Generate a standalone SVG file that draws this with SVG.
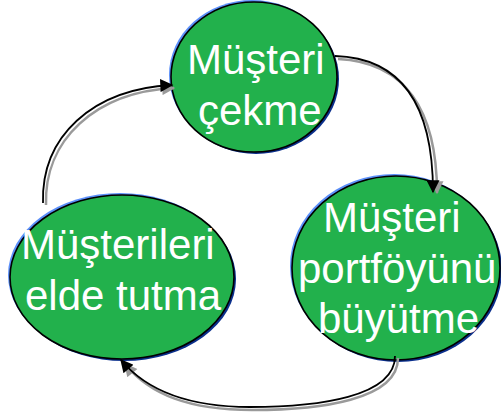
<svg xmlns="http://www.w3.org/2000/svg" width="501" height="414" viewBox="0 0 501 414">
<style>
.lt{fill:#5b8ff9}
.dk{fill:#0a2f8c}
.body{fill:#22b14c;stroke:#000;stroke-width:1.6}
.lbl{font-family:"Liberation Sans",Arial,sans-serif;font-size:42px;fill:#fff}
.sh{fill:none;stroke:#9a9a9a;stroke-width:2.5}
.ln{fill:none;stroke:#000;stroke-width:1.8}
</style>
<defs>
<marker id="ah" viewBox="0 0 10 10" refX="9" refY="5" markerWidth="15" markerHeight="13" markerUnits="userSpaceOnUse" orient="auto">
<path d="M0,0 L10,5 L0,10 Z" fill="#000"/>
</marker>
<marker id="ahs" viewBox="0 0 10 10" refX="9" refY="5" markerWidth="15" markerHeight="13" markerUnits="userSpaceOnUse" orient="auto">
<path d="M0,0 L10,5 L0,10 Z" fill="#9a9a9a"/>
</marker>
</defs>
<g id="node-top">
<ellipse class="lt" cx="252" cy="75" rx="83" ry="75"/>
<ellipse class="dk" cx="256" cy="79" rx="83" ry="75"/>
<ellipse class="body" cx="254" cy="77" rx="83" ry="75"/>
<text class="lbl" x="187" y="74">Müşteri</text>
<text class="lbl" x="198" y="125">çekme</text>
</g>
<g id="node-right">
<ellipse class="lt" cx="394" cy="266" rx="104" ry="92"/>
<ellipse class="dk" cx="398" cy="270" rx="104" ry="92"/>
<ellipse class="body" cx="396" cy="268" rx="104" ry="92"/>
<text class="lbl" x="323" y="232">Müşteri</text>
<text class="lbl" x="298" y="283">portföyünü</text>
<text class="lbl" x="318" y="333">büyütme</text>
</g>
<g id="node-left">
<ellipse class="lt" cx="120" cy="275" rx="112" ry="82"/>
<ellipse class="dk" cx="124" cy="279" rx="112" ry="82"/>
<ellipse class="body" cx="122" cy="277" rx="112" ry="82"/>
<text class="lbl" x="21" y="259">Müşterileri</text>
<text class="lbl" x="25" y="310">elde tutma</text>
</g>
<g id="connectors">
<path class="sh" d="M338,59 C405,62 437,110 437,193" marker-end="url(#ahs)"/>
<path class="ln" d="M335,56 C402,58 433,106 433,192" marker-end="url(#ah)"/>
<path class="sh" d="M398,358 C398,400 320,410 252,410 C190,410 150,395 125,364" marker-end="url(#ahs)"/>
<path class="ln" d="M395,356 C395,397 318,407 250,407 C188,407 146,390 121,360" marker-end="url(#ah)"/>
<path class="sh" d="M46,205 C44,140 95,92 174,88" marker-end="url(#ahs)"/>
<path class="ln" d="M43,203 C41,137 92,89 172,85" marker-end="url(#ah)"/>
</g>
</svg>
